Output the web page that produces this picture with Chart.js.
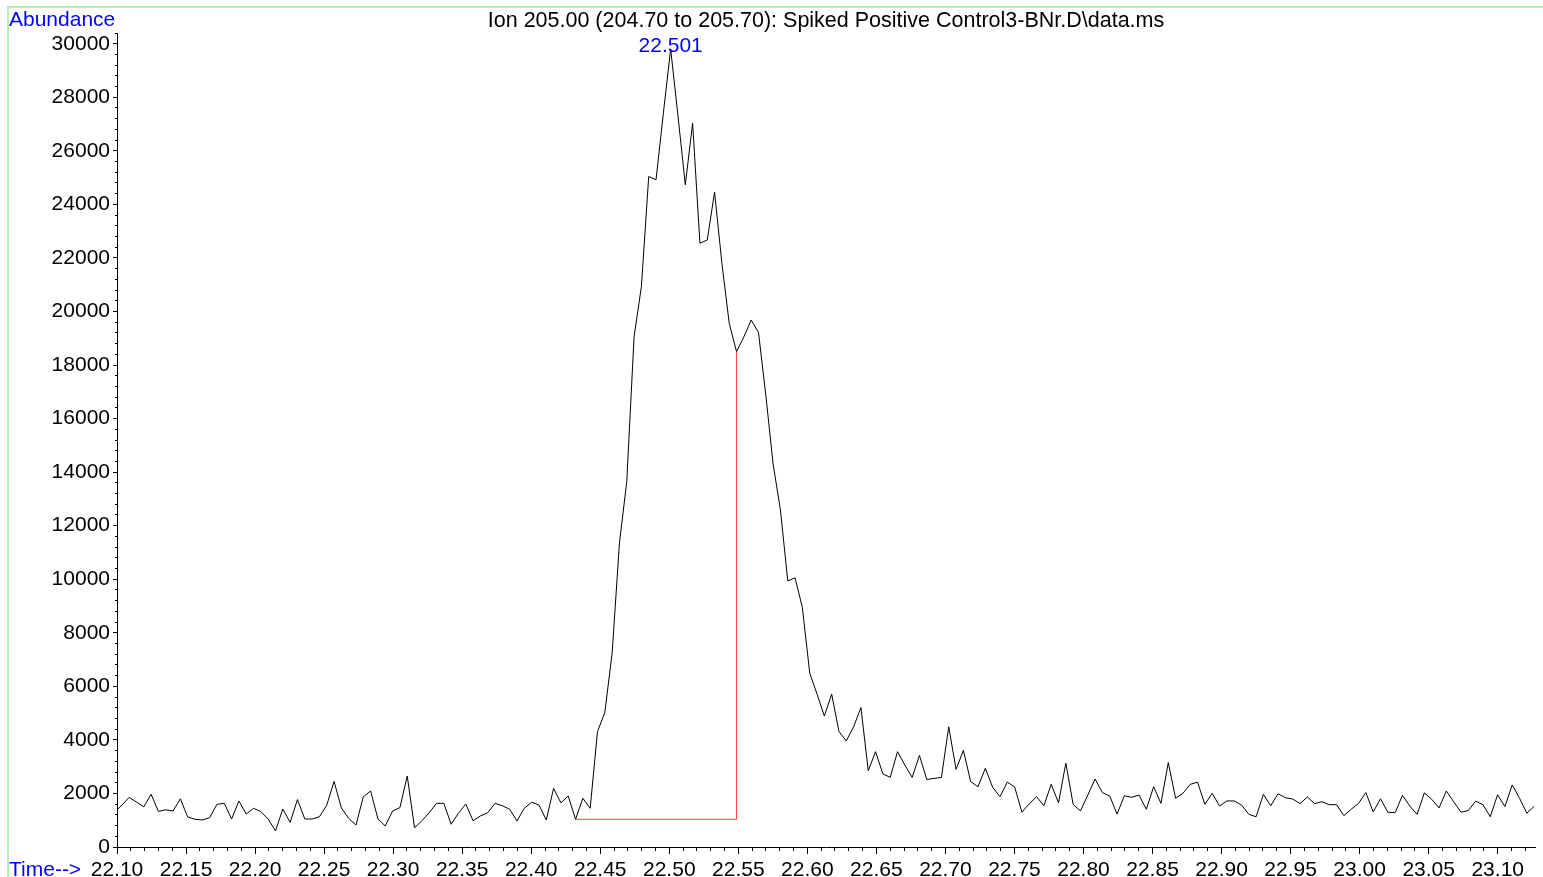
<!DOCTYPE html>
<html>
<head>
<meta charset="utf-8">
<script src="https://cdn.jsdelivr.net/npm/chart.js@4.4.1/dist/chart.umd.min.js"></script>
<style>
html,body{margin:0;padding:0;background:#fff;overflow:hidden}
canvas{display:block}
</style>
</head>
<body>
<canvas id="c" width="1543" height="877"></canvas>
<script>
// ---- texts ----
const chartTitle = "Ion 205.00 (204.70 to 205.70): Spiked Positive Control3-BNr.D\\data.ms";
const yAxisLabel = "Abundance";
const xAxisLabel = "Time-->";
const peakLabel = "22.501";

// ---- scan grid (constant MS scan interval) ----
const scanStartTime = 22.0982;
const scanInterval = 0.0053;

// ---- ion abundance per scan ----
const abundance = [
  1300, 1560, 1850, 1680, 1500, 1970, 1330, 1390, 1345, 1800,
  1120, 1035, 1010, 1095, 1595, 1630, 1045, 1720, 1230, 1445,
  1320, 1045,  600, 1420,  920, 1770, 1045, 1045, 1130, 1560,
  2450, 1460, 1070,  820, 1880, 2090, 1045,  785, 1345, 1470,
  2650,  720,  980, 1280, 1630, 1630,  850, 1260, 1605,  980,
  1160, 1280, 1630, 1540, 1410,  970, 1445, 1670, 1570, 1010,
  2190, 1650, 1905, 1035, 1820, 1445, 4310, 5020, 7240, 11350,
  13650, 19060, 20930, 25040, 24920, 27400, 29800, 27300, 24730, 27030,
  22550, 22670, 24460, 21800, 19560, 18500, 19050, 19680, 19220, 16880,
  14300, 12590, 9940, 10050, 8940, 6500, 5710, 4890, 5710, 4310,
  3960, 4490, 5210, 2850, 3560, 2730, 2600, 3560, 3060, 2600,
  3420, 2520, 2560, 2600, 4490, 2900, 3610, 2440, 2250, 2940,
  2230, 1880, 2420, 2250, 1300, 1610, 1880, 1540, 2340, 1650,
  3130, 1590, 1345, 1940, 2540, 2030, 1905, 1230, 1915, 1855,
  1940, 1410, 2250, 1630, 3150, 1820, 2005, 2340, 2420, 1595,
  2005, 1530, 1720, 1720, 1570, 1220, 1130, 1970, 1540, 1990,
  1840, 1790, 1620, 1870, 1620, 1690, 1580, 1580, 1170, 1410,
  1630, 2030, 1310, 1800, 1300, 1280, 1930, 1530, 1220, 2020,
  1780, 1460, 2090, 1690, 1300, 1360, 1710, 1580, 1130, 1950,
  1510, 2320, 1820, 1260, 1520
];
const scanTimes = abundance.map((_, i) => +(scanStartTime + i * scanInterval).toFixed(4));

// ---- peak / integration ----
const peakIndex = 76;
const baselineStartIndex = 63;
const baselineEndIndex = 85;

// ---- axis ranges / tick labels ----
const xMin = 22.10, xMax = 23.127;
const xTickLabels = ["22.10","22.15","22.20","22.25","22.30","22.35","22.40","22.45","22.50","22.55",
  "22.60","22.65","22.70","22.75","22.80","22.85","22.90","22.95","23.00","23.05","23.10"];
const xMinorPerMajor = 5;
const yMin = 0, yMax = 30400;
const yTickLabels = ["0","2000","4000","6000","8000","10000","12000","14000","16000",
  "18000","20000","22000","24000","26000","28000","30000"];
const yMinorPerMajor = 5;

const FONT = '"Liberation Sans", Arial, sans-serif';
const FSIZE = 21;
const BLUE = '#0000ff';

const xMajorVals = xTickLabels.map(Number);
const yMajorVals = yTickLabels.map(Number);
function minorVals(major, per, lo, hi) {
  const step = (major[1] - major[0]) / per;
  const out = [];
  for (let i = 0; ; i++) {
    const v = +(major[0] + i * step).toFixed(6);
    if (v > hi + 1e-9) break;
    if (v >= lo - 1e-9) out.push(v);
  }
  return out;
}
const xMinorVals = minorVals(xMajorVals, xMinorPerMajor, xMin, xMax);
const yMinorVals = minorVals(yMajorVals, yMinorPerMajor, yMin, yMax);

const mainPoints = scanTimes.map((t, i) => ({ x: t, y: abundance[i] }));
const baseVal = abundance[baselineStartIndex];
const baselinePoints = [
  { x: scanTimes[baselineStartIndex], y: baseVal },
  { x: scanTimes[baselineEndIndex], y: baseVal },
  { x: scanTimes[baselineEndIndex], y: abundance[baselineEndIndex] }
];

const decor = {
  id: 'decor',
  beforeDraw(chart) {
    const ctx = chart.ctx;
    ctx.save();
    ctx.fillStyle = '#fff';
    ctx.fillRect(0, 0, chart.width, chart.height);
    ctx.strokeStyle = '#b4f0b4';
    ctx.lineWidth = 2;
    ctx.beginPath();
    ctx.moveTo(8, 880);
    ctx.lineTo(8, 7);
    ctx.lineTo(1545, 7);
    ctx.stroke();
    ctx.restore();
  },
  afterDraw(chart) {
    const ctx = chart.ctx;
    const a = chart.chartArea;
    ctx.save();
    ctx.textBaseline = 'alphabetic';
    ctx.font = FSIZE + 'px ' + FONT;
    ctx.fillStyle = BLUE;
    ctx.textAlign = 'left';
    ctx.fillText(yAxisLabel, 9, 26);
    ctx.fillText(xAxisLabel, 9, 876);
    ctx.fillStyle = '#000';
    ctx.textAlign = 'center';
    ctx.font = '21.5px ' + FONT;
    ctx.fillText(chartTitle, (a.left + a.right) / 2, 27);
    ctx.font = FSIZE + 'px ' + FONT;
    const px = chart.scales.x.getPixelForValue(scanTimes[peakIndex]);
    const py = chart.scales.y.getPixelForValue(abundance[peakIndex]);
    ctx.fillStyle = BLUE;
    ctx.fillText(peakLabel, px, py + 3);
    ctx.restore();
  }
};

const tickFont = { family: FONT, size: FSIZE };

new Chart(document.getElementById('c'), {
  type: 'line',
  data: {
    datasets: [
      {
        data: mainPoints,
        borderColor: '#000',
        borderWidth: 1,
        pointRadius: 0,
        tension: 0,
        fill: false,
        xAxisID: 'x',
        yAxisID: 'y'
      },
      {
        data: baselinePoints,
        borderColor: '#ff4040',
        borderWidth: 1,
        pointRadius: 0,
        tension: 0,
        fill: false,
        xAxisID: 'x',
        yAxisID: 'y'
      }
    ]
  },
  options: {
    responsive: false,
    animation: false,
    devicePixelRatio: 1,
    layout: { padding: { left: 0, top: 33, right: 8, bottom: 0 } },
    plugins: { legend: { display: false }, tooltip: { enabled: false }, title: { display: false } },
    scales: {
      x: {
        type: 'linear', position: 'bottom', weight: 1,
        min: xMin, max: xMax,
        border: { display: true, color: '#000', width: 1 },
        grid: { drawOnChartArea: false, tickLength: 7, color: '#000', tickColor: '#000' },
        afterBuildTicks: s => { s.ticks = xMajorVals.map(v => ({ value: v })); },
        ticks: {
          autoSkip: false, maxRotation: 0, minRotation: 0,
          padding: 4, color: '#000', font: tickFont,
          callback: (v, i) => xTickLabels[i]
        },
        afterFit: s => { s.height = 30; }
      },
      xMinor: {
        type: 'linear', position: 'bottom', weight: 0,
        min: xMin, max: xMax,
        border: { display: false },
        grid: { drawOnChartArea: false, tickLength: 4, color: '#000', tickColor: '#000' },
        afterBuildTicks: s => { s.ticks = xMinorVals.map(v => ({ value: v })); },
        ticks: { display: false, autoSkip: false },
        afterFit: s => { s.height = 0; }
      },
      y: {
        type: 'linear', position: 'left', weight: 1,
        min: yMin, max: yMax,
        border: { display: true, color: '#000', width: 1 },
        grid: { drawOnChartArea: false, tickLength: 4, color: '#000', tickColor: '#000' },
        afterBuildTicks: s => { s.ticks = yMajorVals.map(v => ({ value: v })); },
        ticks: {
          autoSkip: false,
          padding: 3, color: '#000', font: tickFont,
          callback: (v, i) => yTickLabels[i]
        },
        afterFit: s => { s.width = 117; }
      },
      yMinor: {
        type: 'linear', position: 'left', weight: 0,
        min: yMin, max: yMax,
        border: { display: false },
        grid: { drawOnChartArea: false, tickLength: 2, color: '#000', tickColor: '#000' },
        afterBuildTicks: s => { s.ticks = yMinorVals.map(v => ({ value: v })); },
        ticks: { display: false, autoSkip: false },
        afterFit: s => { s.width = 0; }
      }
    }
  },
  plugins: [decor]
});
</script>
</body>
</html>
